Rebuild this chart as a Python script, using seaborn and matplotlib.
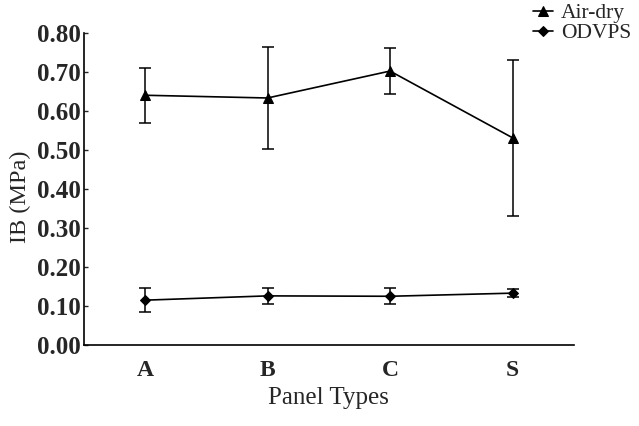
import numpy as np
import pandas as pd
import matplotlib
matplotlib.use("Agg")
import matplotlib.pyplot as plt
import seaborn as sns

# Internal bond strength by panel type
panel_types = ["A", "B", "C", "S"]
air_dry_mean = [0.64, 0.633, 0.702, 0.531]
air_dry_err = [0.07, 0.13, 0.06, 0.20]
odvps_mean = [0.115, 0.126, 0.125, 0.133]
odvps_err = [0.03, 0.02, 0.02, 0.01]
y_ticks = [0.0, 0.1, 0.2, 0.3, 0.4, 0.5, 0.6, 0.7, 0.8]

sns.set_theme(style="ticks")
plt.rcParams["font.family"] = ["Liberation Serif", "DejaVu Serif"]

pos = np.arange(len(panel_types))
df = pd.DataFrame({
    "pos": np.concatenate([pos, pos]),
    "IB": air_dry_mean + odvps_mean,
    "err": air_dry_err + odvps_err,
    "series": ["Air-dry"] * len(pos) + ["ODVPS"] * len(pos),
})

fig = plt.figure(figsize=(6.39, 4.26), dpi=100)
ax = fig.add_axes([0.131, 0.190, 0.767, 0.733])

styles = {"Air-dry": dict(marker="^", ms=7), "ODVPS": dict(marker="D", ms=5)}
for name, sub in df.groupby("series", sort=False):
    sns.lineplot(data=sub, x="pos", y="IB", ax=ax, color="black", lw=1.2,
                 marker=styles[name]["marker"], markersize=styles[name]["ms"],
                 markeredgecolor="black", label=name)
    ax.errorbar(sub["pos"], sub["IB"], yerr=sub["err"], fmt="none",
                ecolor="black", elinewidth=1.1, capsize=4, capthick=1.1)

ax.set_xlim(-0.5, 3.5)
ax.set_ylim(0, 0.8)
ax.set_xticks(pos)
ax.set_xticklabels(panel_types, fontsize=17, fontweight="bold")
ax.set_yticks(y_ticks)
ax.set_yticklabels([f"{v:.2f}" for v in y_ticks], fontsize=18, fontweight="bold")
ax.tick_params(axis="x", length=0, pad=11)
ax.tick_params(axis="y", length=3, width=1, direction="in", pad=2)
for s in ["top", "right"]:
    ax.spines[s].set_visible(False)
for s in ["left", "bottom"]:
    ax.spines[s].set_color("black")
    ax.spines[s].set_linewidth(1.2)

ax.set_xlabel("Panel Types", fontsize=18, labelpad=4)
ax.set_ylabel("IB (MPa)", fontsize=17.5)
ax.yaxis.set_label_coords(-0.108, 0.474)

ax.legend(loc="upper left", bbox_to_anchor=(533 / 639, 1 - 3 / 426),
          bbox_transform=fig.transFigure,
          frameon=False, fontsize=15.5, handlelength=0.95, handletextpad=0.35,
          labelspacing=0.0, borderaxespad=0.0, borderpad=0.0)

fig.savefig("out.png", dpi=100)
